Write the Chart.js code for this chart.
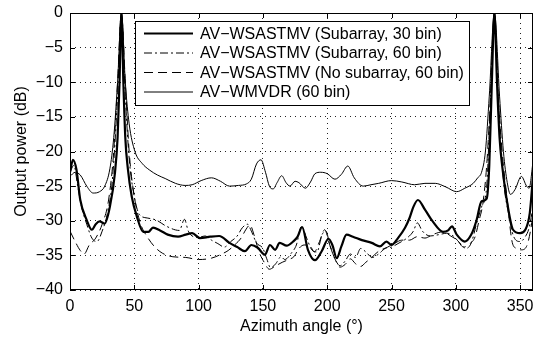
<!DOCTYPE html>
<html>
<head>
<meta charset="utf-8">
<script src="https://cdn.jsdelivr.net/npm/chart.js@4.4.1/dist/chart.umd.min.js"></script>
<style>
  html, body { margin: 0; padding: 0; background: #fff; }
  canvas { display: block; }
</style>
</head>
<body>
<canvas id="beamChart" width="540" height="338"></canvas>
<script>
// ─── Data ─────────────────────────────────────────────────────────────────────

const seriesLabels = [
  'AV\u2212WSASTMV (Subarray, 30 bin)',
  'AV\u2212WSASTMV (Subarray, 60 bin)',
  'AV\u2212WSASTMV (No subarray, 60 bin)',
  'AV\u2212WMVDR (60 bin)',
];

const angSub30 = [0, 2.3, 5, 8, 13, 17, 20, 23, 27, 31, 35, 37, 38.5, 40, 41.5, 43, 45, 48, 52, 57, 61, 64.5, 70, 76, 84, 90, 95, 101, 109, 116, 124, 130, 136, 141, 146, 151.5, 155.5, 159.5, 163, 168.5, 173.5, 177, 180.5, 185, 190.5, 195.7, 201, 204, 207.4, 211, 215, 220, 227, 234.6, 241, 246, 250, 255, 260.5, 264, 267, 270.5, 276, 282, 290, 294, 297, 300.7, 307, 312, 316, 320, 324, 326, 328, 330, 332, 334, 336, 340.5, 344.5, 350, 354, 357.5, 360];
const dbSub30  = [-23, -21.2, -22.6, -27, -29.9, -31.3, -30.5, -30.1, -30.4, -28, -23, -18, -10, 0, -10, -18, -22.5, -26.5, -29.4, -31.6, -31.6, -31, -31.4, -32, -32.3, -32, -31.8, -32.5, -32.3, -32.2, -33.2, -33.8, -34.4, -33.5, -33.9, -34.9, -33.5, -34.2, -33.2, -33.6, -33, -32.3, -30.9, -34.2, -35.7, -34.4, -32.6, -33.5, -35.4, -33.7, -32, -32.3, -32.8, -33.2, -33.7, -33, -33.5, -32.5, -31, -29.6, -28, -27, -28.4, -30.1, -31.6, -31.4, -30.8, -32, -33, -32, -30, -27.2, -26.8, -22, -10, 0, -10, -18, -22, -28, -31.3, -31.8, -31.3, -28.9, -23.5];

const angSub60 = [0, 3, 6, 9, 13, 17, 21, 25, 29, 33, 37, 40, 43, 46, 50, 54, 60, 67, 75, 85, 89, 92, 96, 100, 105, 110, 115, 120, 125, 130, 134, 138, 141, 145, 150, 153, 156, 160, 164, 167, 172, 176, 180, 184, 188, 192, 196, 199, 202, 206, 210, 214, 218, 222, 226, 230, 235, 240, 245, 250, 255, 262, 267, 270, 274, 280, 287, 293, 298, 303, 308, 312, 316, 320, 324, 327, 330, 333, 337, 341, 345, 350, 354, 357, 360];
const dbSub60  = [-23, -22, -25, -28, -30.5, -32.5, -33, -31.5, -29, -24, -12, 0, -12, -21, -26.5, -29.1, -29.6, -29.9, -30.8, -31.4, -29.8, -31.5, -32.3, -32.4, -32.2, -32.8, -33.3, -33.8, -33, -32.2, -31, -30.5, -31.5, -33.2, -34, -35.5, -36.8, -36.2, -35.2, -35.6, -34.7, -33.5, -30.8, -32.5, -34.2, -34.5, -32, -31.5, -33.5, -35.5, -36.5, -35.8, -34.8, -35.3, -34, -34.5, -35.3, -34.8, -34, -33.8, -33.3, -32.5, -31.5, -30.3, -31.5, -32.2, -32, -31.8, -32.2, -33.2, -34, -33.2, -30.5, -28, -25, -12, 0, -12, -24, -29, -32.3, -33, -32.3, -31, -28];

const angNoSub = [0, 4, 8, 11, 15, 20, 25, 30, 34, 37, 40, 43, 46, 50, 55, 60, 66, 72, 80, 90, 100, 110, 118, 123, 128, 133, 137, 140, 143, 147, 151, 155, 160, 165, 170, 174, 178, 182, 186, 190, 194, 198, 202, 206, 210, 214, 218, 222, 226, 230, 234, 240, 247, 253, 258, 264, 270, 276, 282, 290, 296, 301, 306, 311, 315, 318, 321, 324, 327, 330, 333, 336, 340, 343.5, 347, 351, 355, 358, 360];
const dbNoSub  = [-31.5, -33, -34.3, -34.8, -33.5, -32.5, -30.5, -27, -20, -10, 0, -10, -20, -26.5, -30.5, -32.3, -33.8, -34.7, -35.2, -35.3, -35.6, -35.4, -34.8, -34.3, -33.5, -32.5, -31.2, -30.6, -32, -34.5, -36, -37, -36.5, -36, -35.6, -35.2, -34, -33.5, -33.5, -34.5, -33, -31.3, -33.5, -35.5, -36.7, -36.3, -35.5, -36.2, -36.6, -36, -35.4, -34.4, -33.8, -33.2, -32.8, -32.8, -32.3, -32.5, -32, -31.6, -32.2, -32.8, -33.8, -33.3, -32.3, -30, -27.5, -22, -12, 0, -12, -20, -27, -32.8, -34, -34.2, -33.7, -31.5, -29];

const angMvdr = [0, 4, 8, 13, 18, 23, 27, 31, 34, 37, 40, 43, 46, 50.5, 56, 62, 68, 74, 82, 89.5, 95, 102, 110, 117, 124, 131, 137, 141, 145, 148.5, 152, 155, 158, 161, 164.6, 168, 171, 175, 178, 183, 187, 190.5, 195, 200, 206, 211, 216, 221, 228, 234, 240, 250, 258, 268, 276, 284, 292, 300.7, 307, 313.5, 317, 320, 323, 326, 330, 334, 337, 340, 342.5, 346, 351, 355, 357, 360];
const dbMvdr  = [-23.6, -23, -23.4, -25, -26, -25.8, -25, -22.5, -18, -10, 0, -10, -16, -20, -21.7, -22.7, -23.4, -23.9, -24.6, -24.9, -24.8, -24.2, -23.8, -24.3, -25, -24.9, -24.7, -24, -21.8, -21.2, -23, -25, -25.4, -24.5, -23.5, -24.5, -25, -24.3, -24.5, -25.3, -24.4, -23.2, -23, -23.2, -24, -23.3, -22.1, -23.8, -25, -24.8, -24.6, -24.2, -24.4, -24.8, -24.6, -24.6, -25.1, -25.8, -25.3, -24.6, -23.8, -23, -20, -12, 0, -12, -20, -24.5, -26.2, -25.5, -23.6, -25, -25.3, -21.5];

const xTicks = { min: 0, max: 360, step: 50 };
const yTicks = { min: -40, max: 0, step: 5 };

// ─── Helpers ──────────────────────────────────────────────────────────────────

const FONT = '"Liberation Sans", Arial, Helvetica, sans-serif';
const toPoints = (xs, ys) => xs.map((x, i) => ({ x, y: ys[i] }));
const minus = v => String(v).replace('-', '\u2212');

// frame + inward ticks, MATLAB style
const framePlugin = {
  id: 'frame',
  afterDatasetsDraw(chart) {
    const { ctx, chartArea: a, scales } = chart;
    ctx.save();
    ctx.strokeStyle = '#000';
    ctx.lineWidth = 1;
    ctx.setLineDash([]);
    ctx.strokeRect(a.left + 0.5, a.top + 0.5, a.right - a.left - 1, a.bottom - a.top - 1);
    const len = 5;
    ctx.beginPath();
    scales.x.ticks.forEach(t => {
      const px = Math.round(scales.x.getPixelForValue(t.value)) + 0.5;
      ctx.moveTo(px, a.bottom); ctx.lineTo(px, a.bottom - len);
      ctx.moveTo(px, a.top);    ctx.lineTo(px, a.top + len);
    });
    scales.y.ticks.forEach(t => {
      const py = Math.round(scales.y.getPixelForValue(t.value)) + 0.5;
      ctx.moveTo(a.left, py);  ctx.lineTo(a.left + len, py);
      ctx.moveTo(a.right, py); ctx.lineTo(a.right - len, py);
    });
    ctx.stroke();
    ctx.restore();
  },
};

// boxed legend inside the axes
const boxLegendPlugin = {
  id: 'boxLegend',
  afterDraw(chart) {
    const { ctx } = chart;
    const box = { x: 135, y: 21, w: 334, h: 84 };
    ctx.save();
    ctx.fillStyle = '#fff';
    ctx.fillRect(box.x, box.y, box.w, box.h);
    ctx.strokeStyle = '#000';
    ctx.lineWidth = 1;
    ctx.setLineDash([]);
    ctx.strokeRect(box.x + 0.5, box.y + 0.5, box.w, box.h);
    ctx.font = '16px ' + FONT;
    ctx.textBaseline = 'middle';
    ctx.fillStyle = '#000';
    chart.data.datasets.forEach((ds, i) => {
      const y = box.y + 12.5 + i * 19.5;
      ctx.beginPath();
      ctx.lineWidth = ds.borderWidth;
      ctx.setLineDash(ds.borderDash || []);
      ctx.moveTo(box.x + 9, y);
      ctx.lineTo(box.x + 58, y);
      ctx.stroke();
      ctx.setLineDash([]);
      ctx.fillText(ds.label, box.x + 65, y + 1);
    });
    ctx.restore();
  },
};

// ─── Chart ────────────────────────────────────────────────────────────────────

const lineBase = { borderColor: '#000', pointRadius: 0, fill: false, cubicInterpolationMode: 'monotone' };

new Chart(document.getElementById('beamChart'), {
  type: 'line',
  data: {
    datasets: [
      { ...lineBase, label: seriesLabels[0], data: toPoints(angSub30, dbSub30), borderWidth: 2.2 },
      { ...lineBase, label: seriesLabels[1], data: toPoints(angSub60, dbSub60), borderWidth: 1, borderDash: [8, 3, 2, 3] },
      { ...lineBase, label: seriesLabels[2], data: toPoints(angNoSub, dbNoSub), borderWidth: 1, borderDash: [9, 5] },
      { ...lineBase, label: seriesLabels[3], data: toPoints(angMvdr, dbMvdr), borderWidth: 1 },
    ],
  },
  options: {
    responsive: false,
    animation: false,
    devicePixelRatio: 1,
    layout: { padding: { left: 0, top: 13, right: 7, bottom: 0 } },
    plugins: { legend: { display: false }, tooltip: { enabled: false } },
    scales: {
      x: {
        type: 'linear',
        min: xTicks.min, max: xTicks.max,
        afterFit: s => { s.height = 48; s.paddingLeft = 0; s.paddingRight = 0; },
        ticks: { stepSize: xTicks.step, includeBounds: false, color: '#000', padding: 7, maxRotation: 0,
                 font: { family: FONT, size: 16 } },
        grid: { color: '#222', lineWidth: 1, drawTicks: false },
        border: { display: false, dash: [1, 4] },
        title: { display: true, text: 'Azimuth angle (°)', color: '#000', padding: { top: 1, bottom: 2 },
                 font: { family: FONT, size: 16 } },
      },
      y: {
        type: 'linear',
        min: yTicks.min, max: yTicks.max,
        afterFit: s => { s.width = 70; s.paddingTop = 0; s.paddingBottom = 0; },
        ticks: { stepSize: yTicks.step, color: '#000', padding: 7, callback: v => minus(v),
                 font: { family: FONT, size: 16 } },
        grid: { color: '#222', lineWidth: 1, drawTicks: false },
        border: { display: false, dash: [1, 4] },
        title: { display: true, text: 'Output power (dB)', color: '#000', padding: { top: 12, bottom: 4 },
                 font: { family: FONT, size: 16 } },
      },
    },
  },
  plugins: [framePlugin, boxLegendPlugin],
});
</script>
</body>
</html>
